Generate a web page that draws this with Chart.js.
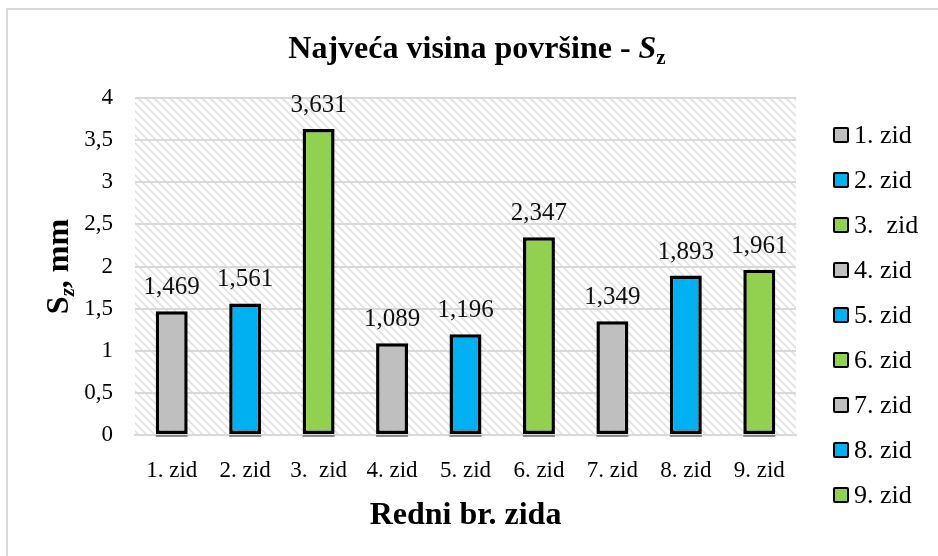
<!DOCTYPE html>
<html>
<head>
<meta charset="utf-8">
<title>Najveća visina površine - Sz</title>
<script src="https://cdn.jsdelivr.net/npm/chart.js@4"></script>
<style>
  html, body { margin: 0; padding: 0; background: #fff; }
  #wrap { position: relative; width: 938px; height: 556px; overflow: hidden; }
  #legend {
    position: absolute; left: 833px; top: 112px; margin: 0; padding: 0; list-style: none;
    font-family: 'Liberation Serif', 'Times New Roman', serif; font-size: 26px; color: #000;
  }
  #legend li { height: 45px; display: flex; align-items: center; white-space: pre; }
  #legend .box { width: 12px; height: 12px; border: 2.5px solid #000; border-radius: 2px; margin-right: 5px; }
</style>
</head>
<body>
<div id="wrap">
  <canvas id="zidChart" width="938" height="556"></canvas>
  <ul id="legend"></ul>
</div>
<script>
// podaci
const zidovi = ['1. zid', '2. zid', '3.  zid', '4. zid', '5. zid', '6. zid', '7. zid', '8. zid', '9. zid'];
const szVrijednosti = [1.469, 1.561, 3.631, 1.089, 1.196, 2.347, 1.349, 1.893, 1.961];
const bojeZidova = ['#bfbfbf', '#00b0f0', '#92d050', '#bfbfbf', '#00b0f0', '#92d050', '#bfbfbf', '#00b0f0', '#92d050'];
const yOznake = ['0', '0,5', '1', '1,5', '2', '2,5', '3', '3,5', '4'];

const FONT = "'Liberation Serif', 'Times New Roman', serif";
Chart.defaults.font.family = FONT;
Chart.defaults.color = '#000';

// kosa srafura za pozadinu grafa
function napraviSrafuru(ctx) {
    const s = 8;
    const c = document.createElement('canvas');
    c.width = s;
    c.height = s;
    const p = c.getContext('2d');
    p.strokeStyle = '#e1e1e1';
    p.lineWidth = 1.6;
    p.beginPath();
    p.moveTo(-1, -1); p.lineTo(s + 1, s + 1);
    p.moveTo(-1, s - 1); p.lineTo(1, s + 1);
    p.moveTo(s - 1, -1); p.lineTo(s + 1, 1);
    p.stroke();
    return ctx.createPattern(c, 'repeat');
}

const pozadina = {
    id: 'pozadina',
    beforeDraw(chart) {
        const {ctx, chartArea: a} = chart;
        ctx.save();
        ctx.strokeStyle = '#d9d9d9';
        ctx.lineWidth = 2;
        ctx.strokeRect(7, 9, 1000, 600);
        ctx.fillStyle = napraviSrafuru(ctx);
        ctx.fillRect(a.left, a.top, a.right - a.left, a.bottom - a.top);
        ctx.restore();
    }
};

// tanka sjena ispod svakog stupca
const sjenaStupaca = {
    id: 'sjenaStupaca',
    beforeDatasetsDraw(chart) {
        const ctx = chart.ctx;
        ctx.save();
        ctx.fillStyle = 'rgba(70,70,70,0.6)';
        chart.getDatasetMeta(0).data.forEach(bar => {
            ctx.fillRect(bar.x - bar.width / 2, bar.base + 1, bar.width, 2);
        });
        ctx.restore();
    }
};

// vrijednosti iznad stupaca
const vrijednosti = {
    id: 'vrijednosti',
    afterDatasetsDraw(chart) {
        const ctx = chart.ctx;
        const values = chart.data.datasets[0].data;
        ctx.save();
        ctx.font = '25px ' + FONT;
        ctx.fillStyle = '#111';
        ctx.textAlign = 'center';
        ctx.textBaseline = 'alphabetic';
        chart.getDatasetMeta(0).data.forEach((bar, i) => {
            ctx.fillText(values[i].toFixed(3).replace('.', ','), bar.x, bar.y - 17);
        });
        ctx.restore();
    }
};

// crta niz dijelova teksta (za indekse i kurziv)
function crtajDijelove(ctx, dijelovi, x, y) {
    let ukupno = 0;
    dijelovi.forEach(d => { ctx.font = d.f; ukupno += ctx.measureText(d.t).width; });
    let cx = x - ukupno / 2;
    dijelovi.forEach(d => {
        ctx.font = d.f;
        ctx.fillText(d.t, cx, y + (d.dy || 0));
        cx += ctx.measureText(d.t).width;
    });
}

const naslovi = {
    id: 'naslovi',
    afterDraw(chart) {
        const {ctx, chartArea: a} = chart;
        ctx.save();
        ctx.fillStyle = '#000';
        ctx.textAlign = 'left';
        ctx.textBaseline = 'alphabetic';
        crtajDijelove(ctx, [
            {t: 'Najveća visina površine - ', f: 'bold 32px ' + FONT},
            {t: 'S', f: 'italic bold 32px ' + FONT},
            {t: 'z', f: 'bold 21px ' + FONT, dy: 6}
        ], 477, 58);

        ctx.translate(68, (a.top + a.bottom) / 2);
        ctx.rotate(-Math.PI / 2);
        crtajDijelove(ctx, [
            {t: 'S', f: 'bold 32px ' + FONT},
            {t: 'z', f: 'italic bold 21px ' + FONT, dy: 6},
            {t: ', mm', f: 'bold 32px ' + FONT}
        ], 0, 0);
        ctx.restore();
    }
};

const chart = new Chart(document.getElementById('zidChart'), {
    type: 'bar',
    data: {
        labels: zidovi,
        datasets: [{
            data: szVrijednosti,
            backgroundColor: bojeZidova,
            borderColor: '#000',
            borderWidth: 3.5,
            borderSkipped: false,
            barPercentage: 0.435,
            categoryPercentage: 1
        }]
    },
    options: {
        responsive: false,
        animation: false,
        layout: { padding: { top: 98, right: 142, bottom: 24, left: 0 } },
        plugins: {
            legend: { display: false },
            tooltip: { enabled: false }
        },
        scales: {
            x: {
                grid: { display: false, drawTicks: false },
                border: { display: true, color: '#d9d9d9', width: 2 },
                ticks: { font: { size: 23 }, padding: 22, maxRotation: 0, autoSkip: false, color: '#000' },
                title: {
                    display: true,
                    text: 'Redni br. zida',
                    font: { size: 32, weight: 'bold' },
                    color: '#000',
                    padding: { top: 0, bottom: -3 }
                },
                afterFit(scale) { scale.height = 97; }
            },
            y: {
                min: 0,
                max: 4,
                grid: { color: '#d9d9d9', lineWidth: 2, drawTicks: false },
                border: { display: false },
                ticks: {
                    stepSize: 0.5,
                    font: { size: 23 },
                    padding: 22,
                    color: '#000',
                    callback: (v, i) => yOznake[i]
                },
                afterFit(scale) { scale.width = 135; }
            }
        }
    },
    plugins: [pozadina, sjenaStupaca, vrijednosti, naslovi]
});

// legenda sa svim zidovima
const legenda = document.getElementById('legend');
zidovi.forEach((z, i) => {
    const li = document.createElement('li');
    const box = document.createElement('span');
    box.className = 'box';
    box.style.background = bojeZidova[i];
    li.appendChild(box);
    li.appendChild(document.createTextNode(z));
    legenda.appendChild(li);
});
</script>
</body>
</html>
